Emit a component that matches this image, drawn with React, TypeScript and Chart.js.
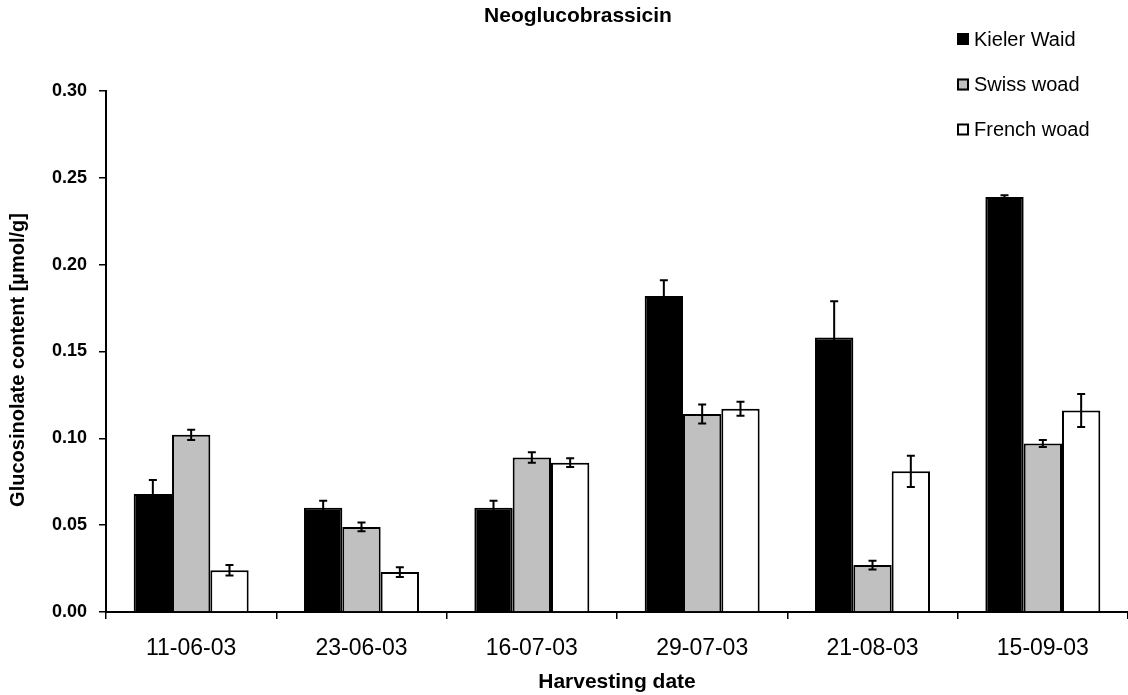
import React, { useEffect, useRef } from 'react';
import { Chart, registerables } from 'chart.js';

Chart.register(...registerables);

const FONT = '"Liberation Sans", Arial, Helvetica, sans-serif';

const chartTitle = 'Neoglucobrassicin';
const xAxisTitle = 'Harvesting date';
const yAxisTitle = 'Glucosinolate content [µmol/g]';

const categories = ['11-06-03', '23-06-03', '16-07-03', '29-07-03', '21-08-03', '15-09-03'];

const seriesNames = ['Kieler Waid', 'Swiss woad', 'French woad'];
const seriesColors = ['#000000', '#c0c0c0', '#ffffff'];

const kielerWaid = [0.068, 0.060, 0.060, 0.182, 0.158, 0.239];
const kielerWaidErr = [0.008, 0.004, 0.004, 0.009, 0.021, 0.001];

const swissWoad = [0.102, 0.049, 0.089, 0.114, 0.027, 0.097];
const swissWoadErr = [0.003, 0.0025, 0.003, 0.0055, 0.0025, 0.002];

const frenchWoad = [0.024, 0.023, 0.086, 0.117, 0.081, 0.116];
const frenchWoadErr = [0.003, 0.0028, 0.0025, 0.004, 0.009, 0.0095];

const yMin = 0;
const yMax = 0.3;
const yStep = 0.05;

const seriesValues = [kielerWaid, swissWoad, frenchWoad];
const seriesErrors = [kielerWaidErr, swissWoadErr, frenchWoadErr];

const errorBarPlugin = {
  id: 'errorBars',
  afterDatasetsDraw(chart: any) {
    const ctx = chart.ctx;
    const yScale = chart.scales.y;
    ctx.save();
    ctx.strokeStyle = '#000';
    ctx.lineWidth = 2;
    chart.data.datasets.forEach((ds: any, i: number) => {
      const meta = chart.getDatasetMeta(i);
      const errs = seriesErrors[i];
      meta.data.forEach((bar: any, j: number) => {
        const v = ds.data[j];
        const e = errs[j];
        const x = bar.x;
        const yt = yScale.getPixelForValue(v + e);
        const yb = yScale.getPixelForValue(v - e);
        const cap = 4;
        ctx.beginPath();
        ctx.moveTo(x, yt);
        ctx.lineTo(x, yb);
        ctx.moveTo(x - cap, yt);
        ctx.lineTo(x + cap, yt);
        ctx.moveTo(x - cap, yb);
        ctx.lineTo(x + cap, yb);
        ctx.stroke();
      });
    });
    ctx.restore();
  },
};

const annotationPlugin = {
  id: 'annotations',
  afterDraw(chart: any) {
    const ctx = chart.ctx;
    ctx.save();
    // Title
    ctx.fillStyle = '#000';
    ctx.font = `bold 21px ${FONT}`;
    ctx.textAlign = 'center';
    ctx.textBaseline = 'middle';
    ctx.fillText(chartTitle, 578, 16);

    // Y axis title
    ctx.save();
    ctx.translate(18, 360);
    ctx.rotate(-Math.PI / 2);
    ctx.font = `bold 20px ${FONT}`;
    ctx.textAlign = 'center';
    ctx.textBaseline = 'middle';
    ctx.fillText(yAxisTitle, 0, 0);
    ctx.restore();

    // Legend
    const ys = [39, 84.5, 129.5];
    chart.data.datasets.forEach((ds: any, i: number) => {
      const y = ys[i];
      ctx.fillStyle = ds.backgroundColor;
      ctx.fillRect(957, y - 6, 12, 12);
      ctx.strokeStyle = '#000';
      ctx.lineWidth = 2;
      ctx.strokeRect(958, y - 5, 10, 10);
      ctx.fillStyle = '#000';
      ctx.font = `20px ${FONT}`;
      ctx.textAlign = 'left';
      ctx.textBaseline = 'middle';
      ctx.fillText(ds.label, 974, y + 1);
    });
    ctx.restore();
  },
};

export default function App() {
  const canvasRef = useRef<HTMLCanvasElement | null>(null);

  useEffect(() => {
    if (!canvasRef.current) return;
    const chart = new Chart(canvasRef.current, {
      type: 'bar',
      data: {
        labels: categories,
        datasets: seriesNames.map((name, i) => ({
          label: name,
          data: seriesValues[i],
          backgroundColor: seriesColors[i],
          borderColor: '#000',
          borderWidth: 2,
          categoryPercentage: 0.675,
          barPercentage: 1.0,
        })),
      },
      options: {
        animation: false,
        responsive: false,
        devicePixelRatio: 1,
        layout: { padding: { top: 91, right: 0, left: 0, bottom: 0 } },
        plugins: {
          legend: { display: false },
          title: { display: false },
          tooltip: { enabled: false },
        },
        scales: {
          x: {
            type: 'category',
            offset: true,
            grid: {
              offset: true,
              drawOnChartArea: false,
              drawTicks: true,
              tickLength: 7,
              color: '#000',
              lineWidth: 1.5,
            },
            border: { display: true, color: '#000', width: 2 },
            ticks: {
              color: '#000',
              font: { family: FONT, size: 23 },
              padding: 16,
              maxRotation: 0,
              autoSkip: false,
            },
            title: {
              display: true,
              text: xAxisTitle,
              color: '#000',
              font: { family: FONT, size: 21, weight: 'bold' },
              padding: { top: 0, bottom: 0 },
            },
            afterFit(scale: any) {
              scale.height = 83;
            },
          },
          y: {
            min: yMin,
            max: yMax,
            ticks: {
              stepSize: yStep,
              color: '#000',
              font: { family: FONT, size: 18, weight: 'bold' },
              padding: 12,
              callback: (v: any) => Number(v).toFixed(2),
            },
            grid: {
              drawOnChartArea: false,
              drawTicks: true,
              tickLength: 7,
              color: '#000',
              lineWidth: 1.5,
            },
            border: { display: true, color: '#000', width: 2 },
            afterFit(scale: any) {
              scale.width = 106;
            },
          },
        },
      },
      plugins: [errorBarPlugin, annotationPlugin],
    });
    return () => chart.destroy();
  }, []);

  return (
    <div style={{ position: 'fixed', left: 0, top: 0, width: 1128, height: 695, background: '#fff' }}>
      <canvas ref={canvasRef} width={1128} height={695} />
    </div>
  );
}
